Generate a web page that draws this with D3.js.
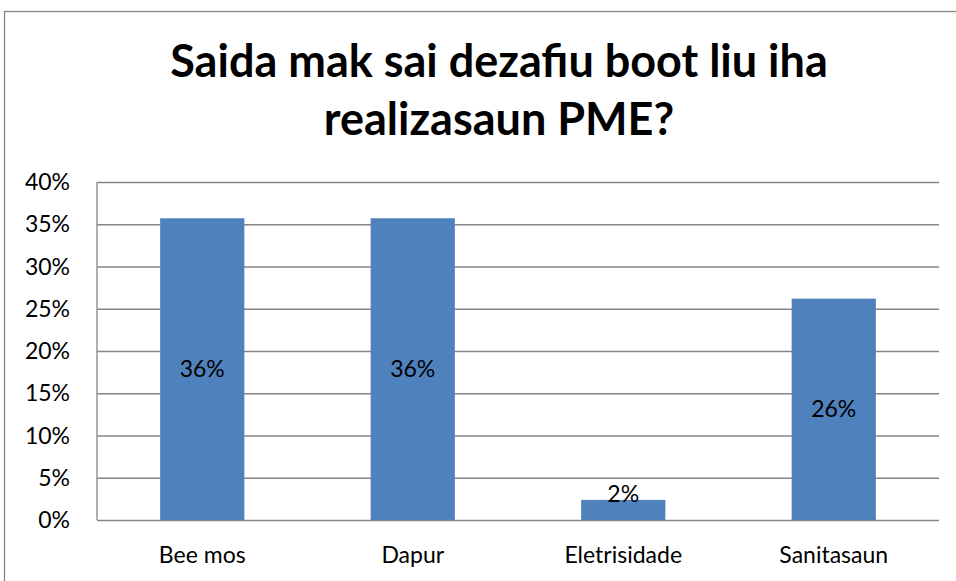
<!DOCTYPE html>
<html>
<head>
<meta charset="utf-8">
<script src="https://cdn.jsdelivr.net/npm/d3@7"></script>
<style>
  body { margin: 0; background: #fff; }
  text { font-family: Lato, "Open Sans", sans-serif; fill: #000; }
</style>
</head>
<body>
<div id="chart-area"></div>
<script>
// chart data
var categories = ["Bee mos", "Dapur", "Eletrisidade", "Sanitasaun"];
var values = [0.3571, 0.3571, 0.0238, 0.2619];
var yTicks = [0, 0.05, 0.10, 0.15, 0.20, 0.25, 0.30, 0.35, 0.40];
var titleLines = ["Saida mak sai dezafiu boot liu iha", "realizasaun PME?"];

var W = 956, H = 581;
var margin = {left: 97, right: 17, top: 182, bottom: 61};
var width = W - margin.left - margin.right;
var height = H - margin.top - margin.bottom;

var svg = d3.select("#chart-area")
  .append("svg")
    .attr("width", W)
    .attr("height", H);

// outer chart border
svg.append("rect")
  .attr("x", 4.5)
  .attr("y", 11.5)
  .attr("width", 980)
  .attr("height", 600)
  .attr("fill", "none")
  .attr("stroke", "#868686")
  .attr("stroke-width", 1.3);

// title
svg.append("g").selectAll("text")
  .data(titleLines)
  .enter().append("text")
    .attr("x", 499)
    .attr("y", function(d, i){ return 77 + i * 58; })
    .attr("text-anchor", "middle")
    .attr("font-size", "45px")
    .attr("font-weight", "bold")
    .text(function(d){ return d; });

var g = svg.append("g")
  .attr("transform", "translate(" + margin.left + "," + margin.top + ")");

var x = d3.scaleBand()
  .domain(categories)
  .range([0, width])
  .paddingInner(0.6)
  .paddingOuter(0.3);

var y = d3.scaleLinear()
  .domain([0, 0.4])
  .range([height, 0]);

// gridlines
g.append("g")
  .call(d3.axisLeft(y).tickValues(yTicks).tickSize(-width).tickFormat(""))
  .call(function(a){
    a.select(".domain").remove();
    a.selectAll("line").attr("stroke", "#868686").attr("stroke-width", 1.3);
  });

// left axis line + tick labels
g.append("line")
  .attr("x1", 0).attr("x2", 0)
  .attr("y1", y(0.4)).attr("y2", y(0))
  .attr("stroke", "#868686")
  .attr("stroke-width", 1.3);

g.append("g").selectAll("text")
  .data(yTicks)
  .enter().append("text")
    .attr("x", -27)
    .attr("y", function(d){ return y(d); })
    .attr("dy", "0.35em")
    .attr("text-anchor", "end")
    .attr("font-size", "23px")
    .text(d3.format(".0%"));

// bars
g.selectAll(".bar")
  .data(values)
  .enter().append("rect")
    .attr("class", "bar")
    .attr("x", function(d, i){ return x(categories[i]); })
    .attr("y", function(d){ return y(d); })
    .attr("width", x.bandwidth())
    .attr("height", function(d){ return y(0) - y(d); })
    .attr("fill", "#4F81BD");

// value labels (small bars: label sits on the bar top)
g.selectAll(".lbl")
  .data(values)
  .enter().append("text")
    .attr("class", "lbl")
    .attr("x", function(d, i){ return x(categories[i]) + x.bandwidth() / 2; })
    .attr("y", function(d){
      if ((y(0) - y(d)) < 30) return y(d) + 2;
      return (y(d) + y(0)) / 2;
    })
    .attr("dy", function(d){ return (y(0) - y(d)) < 30 ? "0" : "0.35em"; })
    .attr("text-anchor", "middle")
    .attr("font-size", "23px")
    .text(d3.format(".0%"));

// category labels
g.append("g").selectAll("text")
  .data(categories)
  .enter().append("text")
    .attr("x", function(d){ return x(d) + x.bandwidth() / 2; })
    .attr("y", height + 43)
    .attr("text-anchor", "middle")
    .attr("font-size", "23px")
    .text(function(d){ return d; });
</script>
</body>
</html>
